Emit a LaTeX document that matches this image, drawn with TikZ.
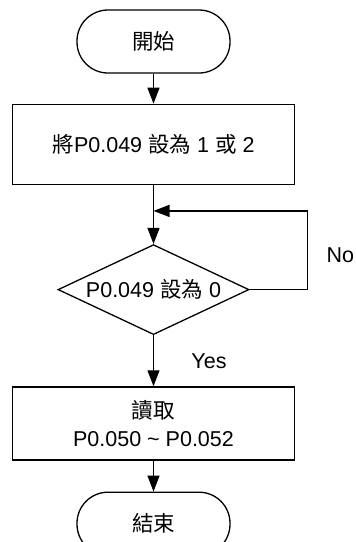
\documentclass[tikz,border=0pt]{standalone}
\usepackage{fontspec}
\setmainfont{Liberation Sans}
\newfontfamily\cjk{Noto Sans CJK TC}
\newcommand{\zh}[1]{{\cjk #1}}
\usetikzlibrary{positioning,arrows.meta,shapes.geometric,calc}

\begin{document}
\begin{tikzpicture}[
        x=1pt, y=-1pt,
        font=\fontsize{21.5}{28}\selectfont,
        >={Triangle[length=16pt, width=12pt]},
        line width=1.3pt,
        term/.style={rectangle, rounded corners=31pt, draw, align=center,
                     minimum width=153pt, minimum height=63pt},
        box/.style={rectangle, draw, align=center,
                    minimum width=282pt, minimum height=80pt},
        cond/.style={diamond, draw, aspect=2.12, inner sep=0pt,
                     minimum width=191pt, minimum height=90pt},
    ]
        \useasboundingbox (0,0) rectangle (356,542);

        \node[term] (start) at (153.5,41.5) {\zh{開始}};
        \node[box, below=30pt of start] (set) {\zh{將}P0.049 \zh{設為} 1 \zh{或} 2};
        \node[cond, below=59pt of set] (check) {P0.049 \zh{設為} 0};
        \node[box, minimum height=73pt, below=51pt of check] (read)
            {\zh{讀取}\\P0.050 \textasciitilde{} P0.052};
        \node[term, below=31pt of read] (stop) {\zh{結束}};

        % loop back
        \coordinate (merge) at ($(set.south)!0.44!(check.north)$);

        \draw[->] (start) -- (set);
        \draw[->] (set) -- (check);
        \draw[->] (check) -- node[right=34pt] {Yes} (read);
        \draw[->] (check.east) -- ++(58,0) |- node[pos=0.22, right=15pt] {No} (merge);
        \draw[->] (read) -- (stop);
    \end{tikzpicture}
\end{document}
